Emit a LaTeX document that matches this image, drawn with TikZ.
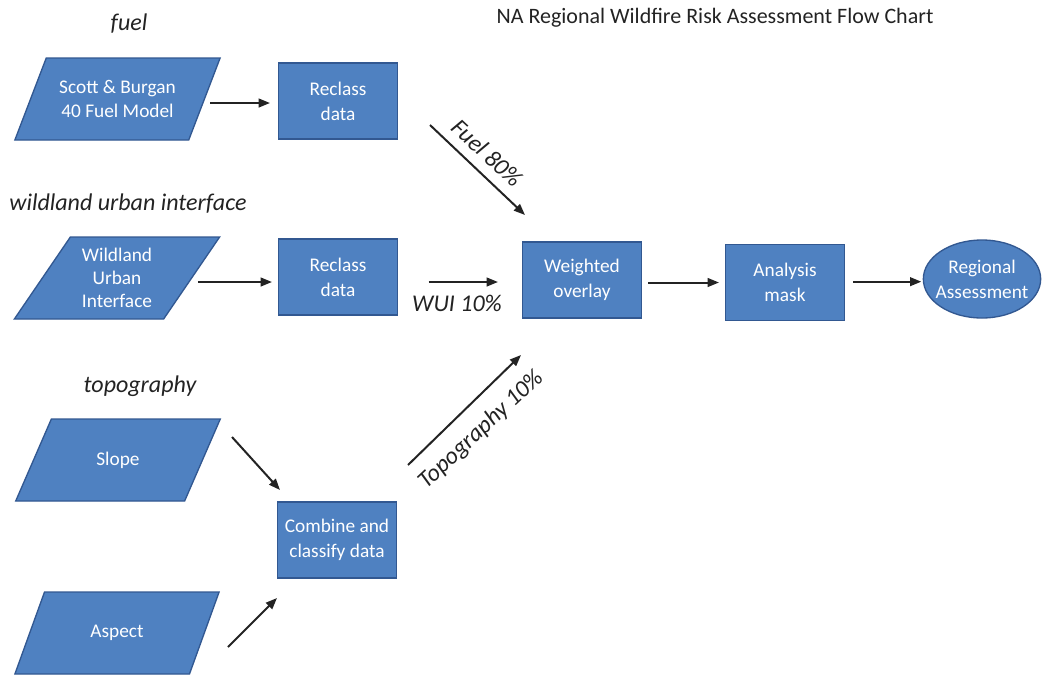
\documentclass[tikz,border=0pt]{standalone}
\usepackage{fontspec}
\setmainfont{Carlito}
\usetikzlibrary{shapes.geometric,arrows.meta}
\definecolor{boxfill}{RGB}{79,129,193}
\definecolor{boxline}{RGB}{50,88,145}
\definecolor{ink}{RGB}{35,35,35}
\begin{document}
\begin{tikzpicture}[x=0.75pt,y=-0.75pt,
  box/.style={rectangle, draw=boxline, fill=boxfill, line width=1pt,
    minimum width=89pt, minimum height=57pt, text=white, align=center,
    font=\fontsize{14.5}{18.75}\selectfont, inner sep=1pt},
  datab/.style={trapezium, trapezium left angle=55, trapezium right angle=125,
    trapezium stretches=true, draw=boxline, fill=boxfill, line width=1pt,
    minimum width=154pt, minimum height=61.5pt, text=white, align=center,
    font=\fontsize{14.5}{17.5}\selectfont, inner sep=0pt},
  term/.style={ellipse, draw=boxline, fill=boxfill, line width=1pt,
    minimum width=88pt, minimum height=58.5pt, inner xsep=-5pt, inner ysep=0pt,
    text=white, align=center, font=\fontsize{14.5}{18.75}\selectfont},
  arr/.style={-{Triangle[length=8.5pt,width=6.5pt]}, line width=1.5pt, draw=ink},
  lab/.style={font=\itshape\fontsize{18}{20}\selectfont, text=ink}
]
\useasboundingbox (0,0) rectangle (1048,675);

\node[font=\fontsize{16.5}{19}\selectfont, text=ink] (title) at (715,18) {NA Regional Wildfire Risk Assessment Flow Chart};

\node[lab] (lfuel) at (129,24) {fuel};
\node[lab] (lwui) at (128,204) {wildland urban interface};
\node[lab] (ltopo) at (140,386) {topography};

\node[datab] (sb) at (117.5,99) {Scott \& Burgan\\40 Fuel Model};
\node[box] (rc1) at (338,101) {Reclass\\data};
\node[datab] (wui) at (117,278) {Wildland\\Urban\\Interface};
\node[box] (rc2) at (338,277) {Reclass\\data};
\node[box] (wo) at (582,280) {Weighted\\overlay};
\node[box] (am) at (785,282.5) {Analysis\\mask};
\node[term] (ra) at (982,279) {Regional\\Assessment};
\node[datab] (slope) at (118,460) {Slope};
\node[datab] (aspect) at (117,633) {Aspect};
\node[box] (cc) at (337,540) {Combine and\\classify data};

\coordinate (f1) at (430,125);
\coordinate (f2) at (525,215);
\coordinate (t1) at (408,465);
\coordinate (t2) at (521,355);
\coordinate (s1) at (232,437);
\coordinate (s2) at (280,490);
\coordinate (a1) at (228,647);
\coordinate (a2) at (277,598);

\draw[arr, shorten <=4pt, shorten >=6pt] ([yshift=-1.5pt]rc1.west -| sb.east) -- ([yshift=-1.5pt]rc1.west);
\draw[arr, shorten <=4pt, shorten >=4.5pt] ([yshift=-3.75pt]rc2.west -| wui.east) -- ([yshift=-3.75pt]rc2.west);
\draw[arr, shorten <=23pt, shorten >=18pt] ([yshift=-1.5pt]wo.west -| rc2.east) -- ([yshift=-1.5pt]wo.west);
\draw[arr, shorten <=4.5pt, shorten >=4.5pt] (am.west -| wo.east) -- (am.west);
\draw[arr, shorten <=6pt, shorten >=1pt] ([yshift=-2pt]ra.west -| am.east) -- ([yshift=-2pt]ra.west);
\draw[arr] (f1) -- (f2);
\draw[arr] (t1) -- (t2);
\draw[arr] (s1) -- (s2);
\draw[arr] (a1) -- (a2);

\node[lab, rotate=-43] (lf) at (487,153) {Fuel 80\%};
\node[lab] (lw) at (457,303) {WUI 10\%};
\node[lab, rotate=43] (lt) at (481,430) {Topography 10\%};
\end{tikzpicture}
\end{document}
